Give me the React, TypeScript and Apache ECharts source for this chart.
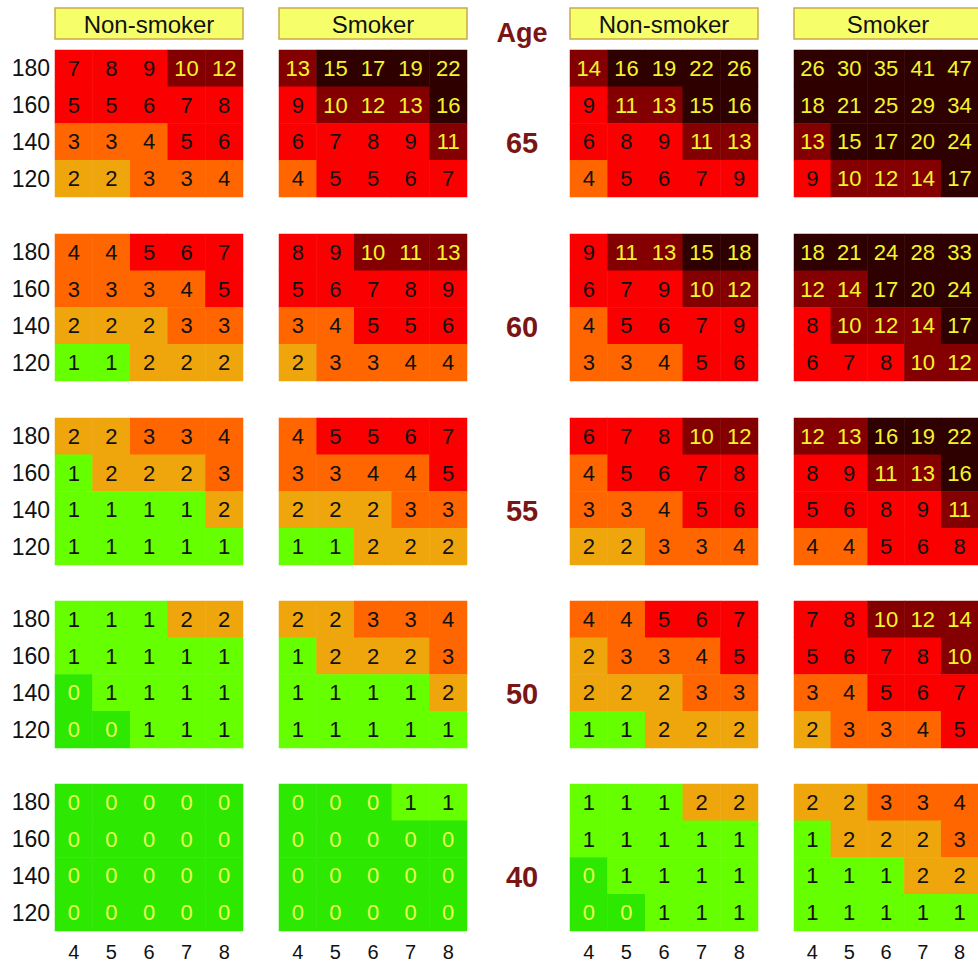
import React, { useEffect, useRef } from "react";
import * as echarts from "echarts";

const cholesterol = ["4", "5", "6", "7", "8"];
const systolic = ["120", "140", "160", "180"];
const ages = ["65", "60", "55", "50", "40"];
const panelTitles = ["Non-smoker", "Smoker", "Non-smoker", "Smoker"];

// each age block lists rows top (180) to bottom (120), columns cholesterol 4..8
const womenNonSmoker = [
  [[7, 8, 9, 10, 12], [5, 5, 6, 7, 8], [3, 3, 4, 5, 6], [2, 2, 3, 3, 4]],
  [[4, 4, 5, 6, 7], [3, 3, 3, 4, 5], [2, 2, 2, 3, 3], [1, 1, 2, 2, 2]],
  [[2, 2, 3, 3, 4], [1, 2, 2, 2, 3], [1, 1, 1, 1, 2], [1, 1, 1, 1, 1]],
  [[1, 1, 1, 2, 2], [1, 1, 1, 1, 1], [0, 1, 1, 1, 1], [0, 0, 1, 1, 1]],
  [[0, 0, 0, 0, 0], [0, 0, 0, 0, 0], [0, 0, 0, 0, 0], [0, 0, 0, 0, 0]],
];
const womenSmoker = [
  [[13, 15, 17, 19, 22], [9, 10, 12, 13, 16], [6, 7, 8, 9, 11], [4, 5, 5, 6, 7]],
  [[8, 9, 10, 11, 13], [5, 6, 7, 8, 9], [3, 4, 5, 5, 6], [2, 3, 3, 4, 4]],
  [[4, 5, 5, 6, 7], [3, 3, 4, 4, 5], [2, 2, 2, 3, 3], [1, 1, 2, 2, 2]],
  [[2, 2, 3, 3, 4], [1, 2, 2, 2, 3], [1, 1, 1, 1, 2], [1, 1, 1, 1, 1]],
  [[0, 0, 0, 1, 1], [0, 0, 0, 0, 0], [0, 0, 0, 0, 0], [0, 0, 0, 0, 0]],
];
const menNonSmoker = [
  [[14, 16, 19, 22, 26], [9, 11, 13, 15, 16], [6, 8, 9, 11, 13], [4, 5, 6, 7, 9]],
  [[9, 11, 13, 15, 18], [6, 7, 9, 10, 12], [4, 5, 6, 7, 9], [3, 3, 4, 5, 6]],
  [[6, 7, 8, 10, 12], [4, 5, 6, 7, 8], [3, 3, 4, 5, 6], [2, 2, 3, 3, 4]],
  [[4, 4, 5, 6, 7], [2, 3, 3, 4, 5], [2, 2, 2, 3, 3], [1, 1, 2, 2, 2]],
  [[1, 1, 1, 2, 2], [1, 1, 1, 1, 1], [0, 1, 1, 1, 1], [0, 0, 1, 1, 1]],
];
const menSmoker = [
  [[26, 30, 35, 41, 47], [18, 21, 25, 29, 34], [13, 15, 17, 20, 24], [9, 10, 12, 14, 17]],
  [[18, 21, 24, 28, 33], [12, 14, 17, 20, 24], [8, 10, 12, 14, 17], [6, 7, 8, 10, 12]],
  [[12, 13, 16, 19, 22], [8, 9, 11, 13, 16], [5, 6, 8, 9, 11], [4, 4, 5, 6, 8]],
  [[7, 8, 10, 12, 14], [5, 6, 7, 8, 10], [3, 4, 5, 6, 7], [2, 3, 3, 4, 5]],
  [[2, 2, 3, 3, 4], [1, 2, 2, 2, 3], [1, 1, 1, 2, 2], [1, 1, 1, 1, 1]],
];
const panels = [womenNonSmoker, womenSmoker, menNonSmoker, menSmoker];

const panelLeft = [55, 279, 570, 794];
const panelWidth = 188;
const blockTop = [50, 234, 418, 601, 784];
const blockHeight = 147;

const riskPieces = [
  { min: -0.5, max: 0.5, color: "#2de800" },
  { min: 0.5, max: 1.5, color: "#66ff00" },
  { min: 1.5, max: 2.5, color: "#eea60c" },
  { min: 2.5, max: 4.5, color: "#ff6600" },
  { min: 4.5, max: 9.5, color: "#fa0000" },
  { min: 9.5, max: 14.5, color: "#840000" },
  { min: 14.5, max: 100, color: "#2e0000" },
];

function textColor(v: number) {
  if (v === 0) return "#e8ff55";
  if (v >= 10) return "#f2f52a";
  return "#111111";
}

const numFont = "'Liberation Sans Narrow', 'Arial Narrow', 'Liberation Sans', Arial, sans-serif";
const font = "'Liberation Sans', Arial, Helvetica, sans-serif";

export default function App() {
  const ref = useRef<HTMLDivElement>(null);
  useEffect(() => {
    if (!ref.current) return;
    const chart = echarts.init(ref.current, undefined, { renderer: "svg" });
    const grid: any[] = [];
    const xAxis: any[] = [];
    const yAxis: any[] = [];
    const series: any[] = [];
    let idx = 0;
    panels.forEach((panel, p) => {
      panel.forEach((block, a) => {
        grid.push({ left: panelLeft[p], top: blockTop[a], width: panelWidth, height: blockHeight, containLabel: false });
        xAxis.push({
          type: "category", gridIndex: idx, data: cholesterol,
          axisLine: { show: false }, axisTick: { show: false }, splitLine: { show: false },
          axisLabel: { show: a === ages.length - 1, fontSize: 20, color: "#111", margin: 11, fontFamily: font },
        });
        yAxis.push({
          type: "category", gridIndex: idx, data: systolic,
          axisLine: { show: false }, axisTick: { show: false }, splitLine: { show: false },
          axisLabel: { show: p === 0, fontSize: 23, color: "#111", margin: 5, fontFamily: font },
        });
        const data: any[] = [];
        block.forEach((row, r) => {
          row.forEach((v, c) => {
            data.push({
              value: [c, systolic.length - 1 - r, v],
              label: { color: textColor(v) },
            });
          });
        });
        series.push({
          type: "heatmap", xAxisIndex: idx, yAxisIndex: idx, data,
          label: { show: true, fontSize: 22, fontFamily: numFont, formatter: (d: any) => String(d.value[2]) },
          emphasis: { disabled: true },
          itemStyle: { borderWidth: 0 },
        });
        idx++;
      });
    });

    const graphic: any[] = [];
    panelTitles.forEach((t, p) => {
      graphic.push({
        type: "rect", shape: { x: panelLeft[p], y: 8, width: panelWidth, height: 31 },
        style: { fill: "#f6ff6a", stroke: "#c9a94a", lineWidth: 1.5 },
      });
      graphic.push({
        type: "text", x: panelLeft[p] + panelWidth / 2, y: 24,
        style: { text: t, fontSize: 24, fontFamily: font, fill: "#111", align: "center", verticalAlign: "middle" },
      });
    });
    graphic.push({
      type: "text", x: 522, y: 33,
      style: { text: "Age", fontSize: 27, fontWeight: "bold", fontFamily: font, fill: "#7a1515", align: "center", verticalAlign: "middle" },
    });
    ages.forEach((ag, a) => {
      graphic.push({
        type: "text", x: 522, y: blockTop[a] + 93,
        style: { text: ag, fontSize: 29, fontWeight: "bold", fontFamily: font, fill: "#7a1515", align: "center", verticalAlign: "middle" },
      });
    });

    chart.setOption({
      animation: false,
      backgroundColor: "#ffffff",
      visualMap: {
        type: "piecewise", show: false, dimension: 2,
        seriesIndex: series.map((_, i) => i),
        pieces: riskPieces,
      },
      grid, xAxis, yAxis, series, graphic,
    });
    return () => chart.dispose();
  }, []);
  return <div ref={ref} style={{ position: "fixed", left: 0, top: 0, width: 978, height: 962 }} />;
}
